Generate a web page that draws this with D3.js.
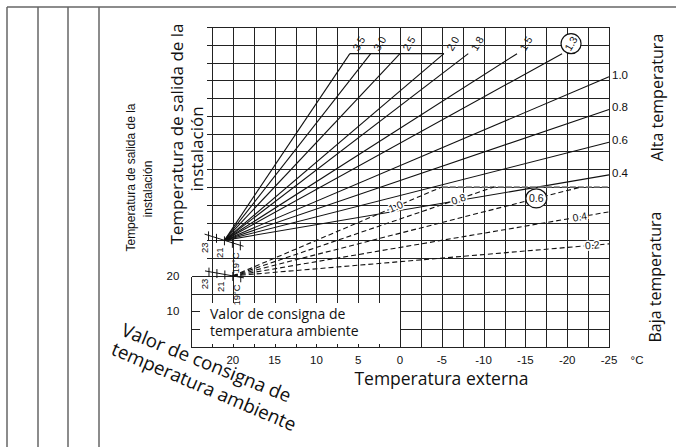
<!DOCTYPE html>
<html>
<head>
<meta charset="utf-8">
<script src="https://cdn.jsdelivr.net/npm/d3@7"></script>
<style>
body { margin: 0; background: #fff; }
svg { display: block; }
.num { font-family: "Liberation Sans", Arial, sans-serif; fill: #111; }
.big { font-family: "Open Sans", "Noto Sans", sans-serif; fill: #111; }
</style>
</head>
<body>
<div id="chart"></div>
<script>
// chart values
const outdoorTicks = [20, 15, 10, 5, 0, -5, -10, -15, -20, -25];
const flowTicks = [20, 10];
const highSlopes = [3.5, 3.0, 2.5, 2.0, 1.8, 1.5, 1.3, 1.0, 0.8, 0.6, 0.4];
const highLabels = ['3.5', '3.0', '2.5', '2.0', '1.8', '1.5', '1.3', '1.0', '0.8', '0.6', '0.4'];
const lowSlopes = [1.0, 0.8, 0.6, 0.4, 0.2];
const lowLabels = ['1.0', '0.8', '0.6', '0.4', '0.2'];
const lowLabelAt = [0.5, -7, -16.3, -21.5, -23];
const highPivot = { outdoor: 21, flow: 30, setpoint: 21, max: 82.5 };
const lowPivot = { outdoor: 20, flow: 20, setpoint: 20, max: 45 };
const setpoints = [23, 22, 21, 20, 19];
const setpointLabels = ['23', '', '21', '', '19°C'];
const circled = ['1.3', '0.6'];

const width = 676;
const height = 447;
const svg = d3.select('#chart').append('svg')
    .attr('width', width)
    .attr('height', height);

const x = d3.scaleLinear().domain([25, -25]).range([191, 609]);
const y = d3.scaleLinear().domain([0, 90]).range([347, 27]);
const sx = v => Math.round(x(v)) + 0.5;
const sy = v => Math.round(y(v)) + 0.5;
const line = d3.line().x(d => x(d[0])).y(d => y(d[1]));

// outer frame
const frame = svg.append('g').attr('stroke', '#666').attr('stroke-width', 1.5);
[7, 38, 68, 99].forEach(fx => {
    frame.append('line').attr('x1', fx).attr('x2', fx).attr('y1', 7).attr('y2', height);
});
frame.append('line').attr('x1', 7).attr('x2', width).attr('y1', 7).attr('y2', 7);

// grid
const grid = svg.append('g').attr('stroke', '#222').attr('stroke-width', 1)
    .attr('shape-rendering', 'crispEdges');
d3.range(22.5, -25.01, -2.5).forEach(v => {
    grid.append('line')
        .attr('x1', sx(v)).attr('x2', sx(v))
        .attr('y1', sy(90))
        .attr('y2', v > 0.1 ? 303 : sy(0));
});
d3.range(0, 90.01, 5).forEach(v => {
    let x1 = 207;
    if (v === 0 || v === 15 || v === 20) x1 = sx(25);
    if (v === 5 || v === 10) x1 = sx(0);
    grid.append('line')
        .attr('x1', x1).attr('x2', sx(-25))
        .attr('y1', sy(v)).attr('y2', sy(v));
    if (v === 5 || v === 10) {
        grid.append('line').attr('x1', sx(25)).attr('x2', sx(25) + 8)
            .attr('y1', sy(v)).attr('y2', sy(v));
    }
});
grid.append('line').attr('x1', sx(25)).attr('x2', sx(25))
    .attr('y1', sy(20)).attr('y2', sy(0));
d3.range(22.5, 0.1, -2.5).forEach(v => {
    grid.append('line').attr('x1', sx(v)).attr('x2', sx(v))
        .attr('y1', sy(0) - 4).attr('y2', sy(0));
});

// axis labels
svg.append('g').selectAll('text')
    .data(outdoorTicks)
    .enter()
    .append('text')
    .attr('class', 'num')
    .attr('x', d => x(d))
    .attr('y', 364)
    .attr('text-anchor', 'middle')
    .style('font-size', '11.5px')
    .text(d => d);
svg.append('text').attr('class', 'num').attr('x', 637).attr('y', 364)
    .attr('text-anchor', 'middle').style('font-size', '11.5px').text('°C');
svg.append('g').selectAll('text')
    .data(flowTicks)
    .enter()
    .append('text')
    .attr('class', 'num')
    .attr('x', 173)
    .attr('y', d => y(d) + 4)
    .attr('text-anchor', 'middle')
    .style('font-size', '11.5px')
    .text(d => d);

// heating curves
function curve(p, k) {
    const tEnd = Math.max(-25, p.outdoor - (p.max - p.flow) / k);
    return [[p.outdoor, p.flow], [tEnd, p.flow + k * (p.outdoor - tEnd)]];
}

const high = svg.append('g');
const highCurves = highSlopes.map(k => curve(highPivot, k));
high.selectAll('path')
    .data(highCurves)
    .enter()
    .append('path')
    .attr('d', line)
    .attr('fill', 'none')
    .attr('stroke', '#111')
    .attr('stroke-width', 1.1);

// top cap of high curves
const capEnd = highCurves[highLabels.indexOf('2.0')][1][0];
high.append('line')
    .attr('x1', x(highCurves[0][1][0])).attr('x2', x(capEnd))
    .attr('y1', y(highPivot.max)).attr('y2', y(highPivot.max))
    .attr('stroke', '#111').attr('stroke-width', 1.1);

highCurves.forEach((c, i) => {
    const end = c[1];
    const label = highLabels[i];
    if (end[0] > -25) {
        const lx = x(end[0]) + 9;
        const ly = y(end[1]) - 10;
        if (circled.includes(label)) {
            high.append('circle').attr('cx', lx).attr('cy', ly).attr('r', 10)
                .attr('fill', '#fff').attr('stroke', '#111').attr('stroke-width', 1.2);
        }
        high.append('text')
            .attr('class', 'num')
            .attr('transform', `translate(${lx},${ly}) rotate(-60)`)
            .attr('text-anchor', 'middle')
            .attr('dy', '0.35em')
            .style('font-size', '10.5px')
            .text(label);
    } else {
        high.append('text')
            .attr('class', 'num')
            .attr('x', 612)
            .attr('y', y(end[1]) + 2)
            .style('font-size', '11.5px')
            .text(label);
    }
});

// low temperature curves
const low = svg.append('g');
const lowCurves = lowSlopes.map(k => curve(lowPivot, k));
low.append('line')
    .attr('x1', x(lowCurves[0][1][0])).attr('x2', x(-25))
    .attr('y1', y(lowPivot.max)).attr('y2', y(lowPivot.max))
    .attr('stroke', '#777').attr('stroke-width', 1.6)
    .attr('stroke-dasharray', '6,2');
low.selectAll('path')
    .data(lowCurves)
    .enter()
    .append('path')
    .attr('d', line)
    .attr('fill', 'none')
    .attr('stroke', '#111')
    .attr('stroke-width', 1.1)
    .attr('stroke-dasharray', '5,3');

lowSlopes.forEach((k, i) => {
    const t = lowLabelAt[i];
    const f = lowPivot.flow + k * (lowPivot.outdoor - t);
    const p0 = [x(lowPivot.outdoor), y(lowPivot.flow)];
    const angle = Math.atan2(y(f) - p0[1], x(t) - p0[0]) * 180 / Math.PI;
    const label = lowLabels[i];
    if (circled.includes(label)) {
        low.append('ellipse').attr('cx', x(t)).attr('cy', y(f))
            .attr('rx', 10.5).attr('ry', 9.5)
            .attr('fill', '#fff').attr('stroke', '#111').attr('stroke-width', 1.2);
    }
    low.append('text')
        .attr('class', 'num')
        .attr('transform', `translate(${x(t)},${y(f)}) rotate(${circled.includes(label) ? 0 : angle})`)
        .attr('text-anchor', 'middle')
        .attr('dy', '0.35em')
        .style('font-size', '10.5px')
        .style('stroke', '#fff')
        .style('stroke-width', 3)
        .style('paint-order', 'stroke')
        .text(label);
});

// room setpoint marks at each pivot
function setpointMarks(p, dFlow) {
    const g = svg.append('g');
    const pos = s => [
        x(p.outdoor + (s - p.setpoint) * 0.95),
        y(p.flow + (s - p.setpoint) * dFlow),
    ];
    const a = pos(23.5);
    const b = pos(18.6);
    g.append('line').attr('x1', a[0]).attr('y1', a[1]).attr('x2', b[0]).attr('y2', b[1])
        .attr('stroke', '#111').attr('stroke-width', 1);
    setpoints.forEach((s, i) => {
        const c = pos(s);
        g.append('line').attr('x1', c[0]).attr('x2', c[0])
            .attr('y1', c[1] - 4).attr('y2', c[1] + 5)
            .attr('stroke', '#111').attr('stroke-width', 1);
        if (setpointLabels[i]) {
            g.append('text')
                .attr('class', 'num')
                .attr('transform', `translate(${c[0] - 1},${c[1] + 7}) rotate(-90)`)
                .attr('text-anchor', 'end')
                .style('font-size', '9.5px')
                .text(setpointLabels[i]);
        }
    });
}
setpointMarks(highPivot, 0.7);
setpointMarks(lowPivot, 0.4);

// titles
function vtext(txt, cx, cy, size, cls) {
    svg.append('text')
        .attr('class', cls)
        .attr('transform', `translate(${cx},${cy}) rotate(-90)`)
        .attr('text-anchor', 'middle')
        .attr('dy', '0.35em')
        .style('font-size', `${size}px`)
        .text(txt);
}
vtext('Temperatura de salida de la', 177, 134, 17, 'big');
vtext('instalación', 197, 149, 17, 'big');
vtext('Temperatura de salida de la', 131, 177.5, 12, 'num');
vtext('instalación', 148, 189, 12, 'num');
vtext('Alta temperatura', 657, 97.5, 16, 'big');
vtext('Baja temperatura', 655, 277, 16, 'big');

svg.append('text').attr('class', 'big')
    .attr('x', 441.5).attr('y', 385)
    .attr('text-anchor', 'middle')
    .style('font-size', '17.5px')
    .text('Temperatura externa');

svg.append('text').attr('class', 'big')
    .attr('x', 210).attr('y', 319)
    .style('font-size', '14px')
    .text('Valor de consigna de');
svg.append('text').attr('class', 'big')
    .attr('x', 210).attr('y', 336)
    .style('font-size', '14px')
    .text('temperatura ambiente');

svg.append('text').attr('class', 'big')
    .attr('transform', 'translate(120,335) rotate(22)')
    .style('font-size', '18.7px')
    .text('Valor de consigna de');
svg.append('text').attr('class', 'big')
    .attr('transform', 'translate(110,354) rotate(23)')
    .style('font-size', '18.7px')
    .text('temperatura ambiente');
</script>
</body>
</html>
